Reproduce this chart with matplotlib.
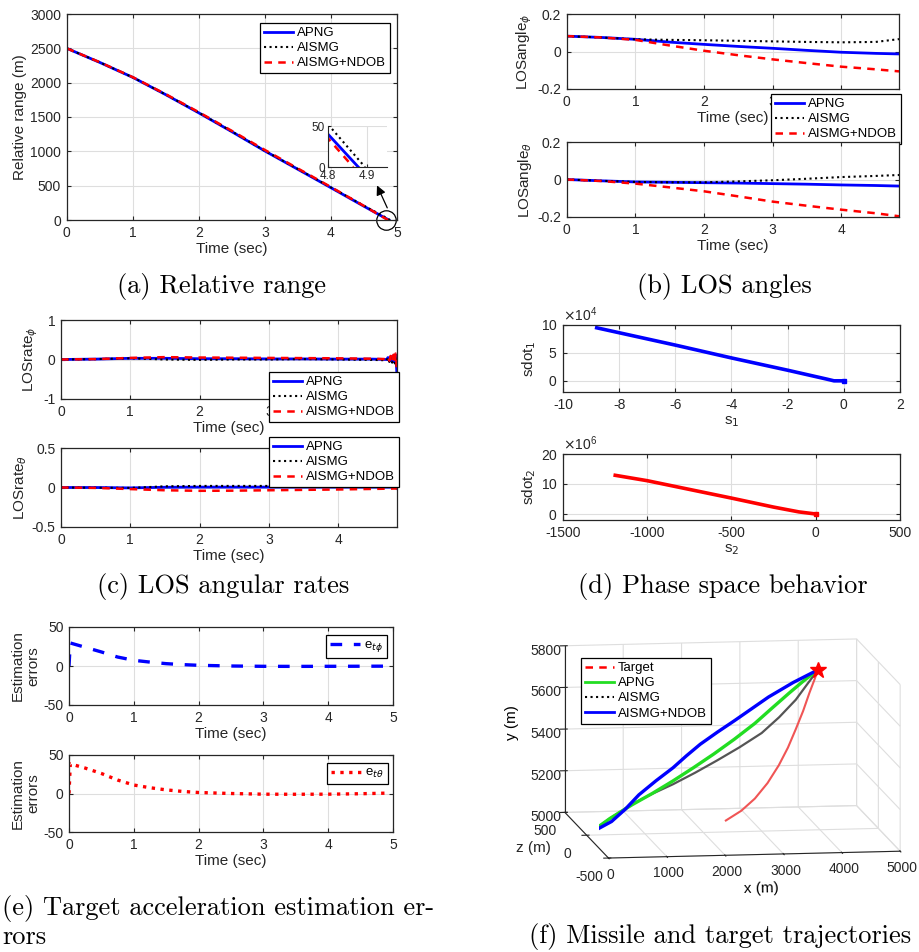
import matplotlib
matplotlib.use('Agg')
import matplotlib.pyplot as plt
from matplotlib.lines import Line2D
from matplotlib.ticker import FuncFormatter

plt.rcParams['font.family'] = ['Liberation Sans', 'DejaVu Sans']
plt.rcParams['axes.unicode_minus'] = False
plt.rcParams['mathtext.fontset'] = 'dejavusans'
plt.rcParams['grid.color'] = '#dedede'
plt.rcParams['grid.linewidth'] = 0.8

# (a) relative range
t_apng = [0, 0.5, 1, 1.5, 2, 2.5, 3, 3.5, 4, 4.5, 4.8, 4.877]
r_apng = [2500, 2295, 2077, 1825, 1560, 1286, 1005, 738, 470, 200, 40, 0]
t_aismg = [0, 0.5, 1, 1.5, 2, 2.5, 3, 3.5, 4, 4.5, 4.8, 4.894]
r_aismg = [2500, 2296, 2078, 1827, 1563, 1290, 1008, 742, 475, 208, 52, 0]
t_ndob = [0, 0.5, 1, 1.5, 2, 2.5, 3, 3.5, 4, 4.5, 4.8, 4.864]
r_ndob = [2500, 2298, 2080, 1832, 1570, 1298, 1020, 750, 480, 205, 35, 0]

# (b) LOS angles
t_b = [0, 0.5, 1, 1.5, 2, 2.5, 3, 3.5, 4, 4.5, 4.84]
phi_apng = [0.082, 0.075, 0.065, 0.050, 0.038, 0.027, 0.017, 0.006, -0.004, -0.010, -0.013]
phi_aismg = [0.082, 0.075, 0.065, 0.062, 0.060, 0.057, 0.054, 0.051, 0.049, 0.051, 0.066]
phi_ndob = [0.082, 0.075, 0.062, 0.032, 0.004, -0.020, -0.042, -0.062, -0.081, -0.095, -0.106]
theta_apng = [0, -0.007, -0.013, -0.015, -0.017, -0.019, -0.022, -0.025, -0.029, -0.032, -0.035]
theta_aismg = [0, -0.007, -0.013, -0.015, -0.015, -0.010, -0.004, 0.004, 0.013, 0.019, 0.024]
theta_ndob = [0, -0.008, -0.022, -0.042, -0.063, -0.090, -0.118, -0.140, -0.161, -0.180, -0.196]

# (c) LOS angular rates
t_c = [0, 0.5, 1, 1.5, 2, 2.5, 3, 3.5, 4, 4.5, 4.7, 4.72, 4.74, 4.76, 4.78, 4.80, 4.82, 4.83, 4.84, 4.85]
rphi_apng = [0, 0.01, 0.03, 0.03, 0.02, 0.02, 0.015, 0.015, 0.01, 0.01, 0.0,
             0.05, -0.04, 0.08, -0.06, 0.10, -0.08, 0.12, -0.10, -0.40]
rphi_aismg = [0, 0.01, 0.03, 0.0, -0.01, 0.0, 0.0, 0.01, 0.0, -0.01, -0.02,
              0.04, -0.06, 0.06, -0.08, 0.05, -0.10, 0.08, -0.05, -0.20]
rphi_ndob = [0, 0.01, 0.04, 0.06, 0.05, 0.045, 0.04, 0.035, 0.03, 0.02, 0.01,
             0.06, -0.03, 0.09, -0.05, 0.12, -0.06, 0.15, 0.10, -0.73]
rth_apng = [0, 0, -0.005, 0.003, 0.005, 0.005, 0.005, 0.005, 0.005, 0.005, 0.005,
            0.005, 0.005, 0.005, 0.005, 0.005, 0.005, 0.005, 0.0, -0.01]
rth_aismg = [0, -0.003, -0.005, 0.015, 0.02, 0.02, 0.02, 0.02, 0.02, 0.02, 0.02,
             0.02, 0.02, 0.02, 0.02, 0.02, 0.025, 0.02, 0.01, 0.0]
rth_ndob = [0, -0.005, -0.02, -0.035, -0.042, -0.04, -0.035, -0.03, -0.025, -0.018, -0.015,
            -0.015, -0.015, -0.014, -0.014, -0.013, -0.013, -0.012, -0.012, -0.02]

# (d) phase space
s1 = [-8.8, -6, -4, -2, -0.6, -0.35, -0.15, 0]
sdot1 = [9.5e4, 6.4e4, 4.1e4, 1.9e4, 0.3e4, 0.0, 0.0, 0.0]
s2 = [-1190, -1000, -750, -500, -250, -100, 0]
sdot2 = [12.9e6, 11.1e6, 8.2e6, 5.3e6, 2.3e6, 0.7e6, 0.0]

# (e) estimation errors
t_e = [0, 0.02, 0.25, 0.5, 0.75, 1, 1.25, 1.5, 1.75, 2, 2.5, 3, 3.5, 4, 4.5, 4.87]
e_phi = [0, 29.5, 24, 18, 11.5, 7.3, 5.0, 3.0, 1.8, 0.9, 0, -0.4, -0.5, -0.4, -0.3, -0.2]
e_theta = [0, 38.5, 33, 26, 17.5, 11, 7.5, 4.7, 2.7, 1.3, 0, -0.9, -1.0, -0.9, -0.3, 0.4]

# (f) trajectories (x, y) in m, z = 0
x_target = [2386, 2650, 2883, 3100, 3293, 3450, 3585, 3710, 3819, 3900, 3965]
y_target = [5055, 5100, 5157, 5230, 5314, 5398, 5486, 5572, 5659, 5718, 5768]
x_apng = [0, 400, 778, 1130, 1480, 1830, 2181, 2530, 2883, 3180, 3468, 3720, 3965]
y_apng = [5000, 5078, 5141, 5194, 5251, 5312, 5376, 5444, 5518, 5590, 5659, 5717, 5768]
x_aismg = [0, 400, 778, 1130, 1480, 1860, 2240, 2620, 3000, 3300, 3585, 3780, 3965]
y_aismg = [5000, 5078, 5144, 5192, 5235, 5288, 5345, 5405, 5471, 5545, 5627, 5700, 5768]
x_ndob = [0, 200, 427, 660, 895, 1190, 1480, 1710, 1947, 2240, 2532, 2830, 3117, 3540, 3965]
y_ndob = [5000, 5030, 5063, 5120, 5188, 5254, 5314, 5370, 5424, 5480, 5533, 5589, 5643, 5710, 5768]

labels3 = ['APNG', 'AISMG', 'AISMG+NDOB']

W, H = 920, 952
fig = plt.figure(figsize=(W / 100, H / 100), dpi=100)
FRAME = '#262626'
fmt = FuncFormatter(lambda v, p: f'{v:g}')


def axes_px(l, t, r, b, **kw):
    return fig.add_axes([l / W, 1 - b / H, (r - l) / W, (b - t) / H], **kw)


def style(ax, xlabel=None, ylabel=None, plain=True):
    ax.grid(True)
    ax.set_axisbelow(True)
    ax.tick_params(direction='in', top=True, right=True, labelsize=10,
                   colors=FRAME, length=3, width=0.8, pad=4)
    for s in ax.spines.values():
        s.set_color(FRAME)
        s.set_linewidth(0.9)
    if plain:
        ax.xaxis.set_major_formatter(fmt)
        ax.yaxis.set_major_formatter(fmt)
    if xlabel:
        ax.set_xlabel(xlabel, fontsize=11, color=FRAME, labelpad=2)
    if ylabel:
        ax.set_ylabel(ylabel, fontsize=11, color=FRAME, labelpad=2)


def legend_px(ax, x, y, handles=None, labels=None, **kw):
    opts = dict(loc='upper left', bbox_to_anchor=(x / W, 1 - y / H),
                bbox_transform=fig.transFigure, fancybox=False, edgecolor='k',
                framealpha=1, fontsize=9.5, handlelength=2.2, borderpad=0.3,
                labelspacing=0.22, handletextpad=0.3, borderaxespad=0)
    opts.update(kw)
    if handles is None:
        leg = ax.legend(**opts)
    else:
        leg = ax.legend(handles, labels, **opts)
    leg.get_frame().set_linewidth(0.9)
    return leg


def caption(x, y, text, ha='center'):
    fig.text(x / W, 1 - y / H, text, ha=ha, va='center', family='cmr10', fontsize=19)


def three(ax, t1, y1, t2, y2, t3, y3):
    ax.plot(t1, y1, color='b', lw=2.0, label=labels3[0])
    ax.plot(t2, y2, color='k', lw=1.5, ls=':', label=labels3[1])
    ax.plot(t3, y3, color='r', lw=1.8, dashes=(3, 2.5), label=labels3[2])


# ---- (a)
axa = axes_px(66.7, 14, 397, 220)
three(axa, t_apng, r_apng, t_aismg, r_aismg, t_ndob, r_ndob)
axa.set_xlim(0, 5)
axa.set_ylim(0, 3000)
axa.set_yticks(range(0, 3001, 500))
style(axa, 'Time (sec)', 'Relative range (m)')
legend_px(axa, 260, 23)
axa.plot(4.83, 0, 'o', ms=14, mfc='none', mec='k', mew=0.9, clip_on=False)
axa.annotate('', xy=(4.68, 540), xytext=(4.87, 140),
             arrowprops=dict(arrowstyle='-|>', color='k', lw=0.9, mutation_scale=14))

ins = axes_px(328, 126, 387, 167)
three(ins, t_apng, r_apng, t_aismg, r_aismg, t_ndob, r_ndob)
ins.set_xlim(4.8, 4.95)
ins.set_ylim(0, 50)
ins.set_xticks([4.8, 4.9])
ins.set_yticks([0, 50])
ins.grid(True)
ins.tick_params(direction='in', labelsize=8.5, colors=FRAME, length=2, pad=2)
ins.xaxis.set_major_formatter(fmt)
ins.spines['top'].set_visible(False)
ins.spines['right'].set_visible(False)
for s in ('left', 'bottom'):
    ins.spines[s].set_color(FRAME)

caption(222, 287, '(a) Relative range')

# ---- (b)
axb1 = axes_px(566.7, 14, 899, 89)
three(axb1, t_b, phi_apng, t_b, phi_aismg, t_b, phi_ndob)
axb1.set_xlim(0, 4.84)
axb1.set_ylim(-0.2, 0.2)
axb1.set_yticks([-0.2, 0, 0.2])
axb1.set_xticks(range(0, 5))
style(axb1, 'Time (sec)', r'LOSangle$_{\phi}$')
legend_px(axb1, 771, 94)

axb2 = axes_px(566.7, 142, 899, 217)
three(axb2, t_b, theta_apng, t_b, theta_aismg, t_b, theta_ndob)
axb2.set_xlim(0, 4.84)
axb2.set_ylim(-0.2, 0.2)
axb2.set_yticks([-0.2, 0, 0.2])
axb2.set_xticks(range(0, 5))
style(axb2, 'Time (sec)', r'LOSangle$_{\theta}$')
caption(724, 287, '(b) LOS angles')

# ---- (c)
axc1 = axes_px(61, 320, 397, 399)
three(axc1, t_c, rphi_apng, t_c, rphi_aismg, t_c, rphi_ndob)
axc1.set_xlim(0, 4.85)
axc1.set_ylim(-1, 1)
axc1.set_yticks([-1, 0, 1])
axc1.set_xticks(range(0, 5))
style(axc1, 'Time (sec)', r'LOSrate$_{\phi}$')
legend_px(axc1, 269, 372)

axc2 = axes_px(61, 448, 397, 527)
three(axc2, t_c, rth_apng, t_c, rth_aismg, t_c, rth_ndob)
axc2.set_xlim(0, 4.85)
axc2.set_ylim(-0.5, 0.5)
axc2.set_yticks([-0.5, 0, 0.5])
axc2.set_xticks(range(0, 5))
style(axc2, 'Time (sec)', r'LOSrate$_{\theta}$')
legend_px(axc2, 269, 437)
caption(223, 587, '(c) LOS angular rates')

# ---- (d)
axd1 = axes_px(563, 325, 900, 392)
axd1.plot(s1, sdot1, color='b', lw=2.6)
axd1.plot(s1[-1], sdot1[-1], 's', color='b', ms=3)
axd1.set_xlim(-10, 2)
axd1.set_ylim(-2e4, 10e4)
axd1.set_yticks([0, 5e4, 10e4])
style(axd1, r's$_1$', r'sdot$_1$', plain=False)
axd1.xaxis.set_major_formatter(fmt)
axd1.ticklabel_format(axis='y', style='sci', scilimits=(4, 4), useMathText=True)
axd1.yaxis.get_offset_text().set_fontsize(10)

axd2 = axes_px(563, 454, 900, 520)
axd2.plot(s2, sdot2, color='r', lw=2.6)
axd2.plot(s2[-1], sdot2[-1], 's', color='r', ms=3)
axd2.set_xlim(-1500, 500)
axd2.set_xticks(range(-1500, 501, 500))
axd2.set_ylim(-2e6, 20e6)
axd2.set_yticks([0, 10e6, 20e6])
style(axd2, r's$_2$', r'sdot$_2$', plain=False)
axd2.xaxis.set_major_formatter(fmt)
axd2.ticklabel_format(axis='y', style='sci', scilimits=(6, 6), useMathText=True)
axd2.yaxis.get_offset_text().set_fontsize(10)
caption(723, 587, '(d) Phase space behavior')

# ---- (e)
axe1 = axes_px(69, 627, 393, 705)
axe1.plot(t_e, e_phi, color='b', lw=2.4, dashes=(3.5, 3.5), label=r'e$_{t\phi}$')
axe1.set_xlim(0, 5)
axe1.set_ylim(-50, 50)
axe1.set_yticks([-50, 0, 50])
style(axe1, 'Time (sec)', 'Estimation\nerrors')
legend_px(axe1, 326, 635, handlelength=2.3)

axe2 = axes_px(69, 755, 393, 832)
axe2.plot(t_e, e_theta, color='r', lw=2.4, ls=':', label=r'e$_{t\theta}$')
axe2.set_xlim(0, 5)
axe2.set_ylim(-50, 50)
axe2.set_yticks([-50, 0, 50])
style(axe2, 'Time (sec)', 'Estimation\nerrors')
legend_px(axe2, 327, 763, handlelength=2.3)

caption(2, 908, '(e) Target acceleration estimation er-', ha='left')
caption(2, 937, 'rors', ha='left')

# ---- (f)
ax3 = axes_px(540, 622, 918, 882, projection='3d')
ax3.set_proj_type('ortho')
ax3.view_init(elev=9, azim=-98.5)
ax3.set_box_aspect((1, 1, 0.572), zoom=1.68)
ax3.plot(x_target, [0] * len(x_target), y_target, color='#f05555', lw=1.5)
ax3.plot(x_aismg, [0] * len(x_aismg), y_aismg, color='#555555', lw=1.6)
ax3.plot(x_apng, [0] * len(x_apng), y_apng, color='#22dd22', lw=2.4)
ax3.plot(x_ndob, [0] * len(x_ndob), y_ndob, color='b', lw=2.4)
ax3.plot([x_target[-1]], [0], [y_target[-1]], '*', color='r', ms=12)
ax3.set_xlim(0, 5000)
ax3.set_ylim(-500, 500)
ax3.set_zlim(5000, 5800)
ax3.set_xticks(range(0, 5001, 1000))
ax3.set_yticks([-500, 0, 500])
ax3.set_zticks(range(5000, 5801, 200))
ax3.set_xlabel('x (m)', fontsize=11, labelpad=-5.5)
ax3.set_zlabel('y (m)', fontsize=11, labelpad=-5.5)
ax3.tick_params(labelsize=10, colors=FRAME)
ax3.tick_params(axis='x', pad=-3.5)
ax3.tick_params(axis='y', pad=-1.5)
ax3.tick_params(axis='z', pad=-2.5)
for axis in (ax3.xaxis, ax3.yaxis, ax3.zaxis):
    axis.set_pane_color((1, 1, 1, 0))
    axis.pane.set_edgecolor('#dedede')
    axis.line.set_color(FRAME)
fig.text(533 / W, 1 - 848 / H, 'z (m)', ha='center', va='center', fontsize=11, color=FRAME)
h3 = [Line2D([], [], color='r', lw=1.8, dashes=(3, 2.5)),
      Line2D([], [], color='#22dd22', lw=2),
      Line2D([], [], color='k', lw=1.5, ls=':'),
      Line2D([], [], color='b', lw=2)]
legend_px(ax3, 581, 658, handles=h3, labels=['Target', 'APNG', 'AISMG', 'AISMG+NDOB'])
caption(720, 937, '(f) Missile and target trajectories')

fig.savefig('out.png', dpi=100)
